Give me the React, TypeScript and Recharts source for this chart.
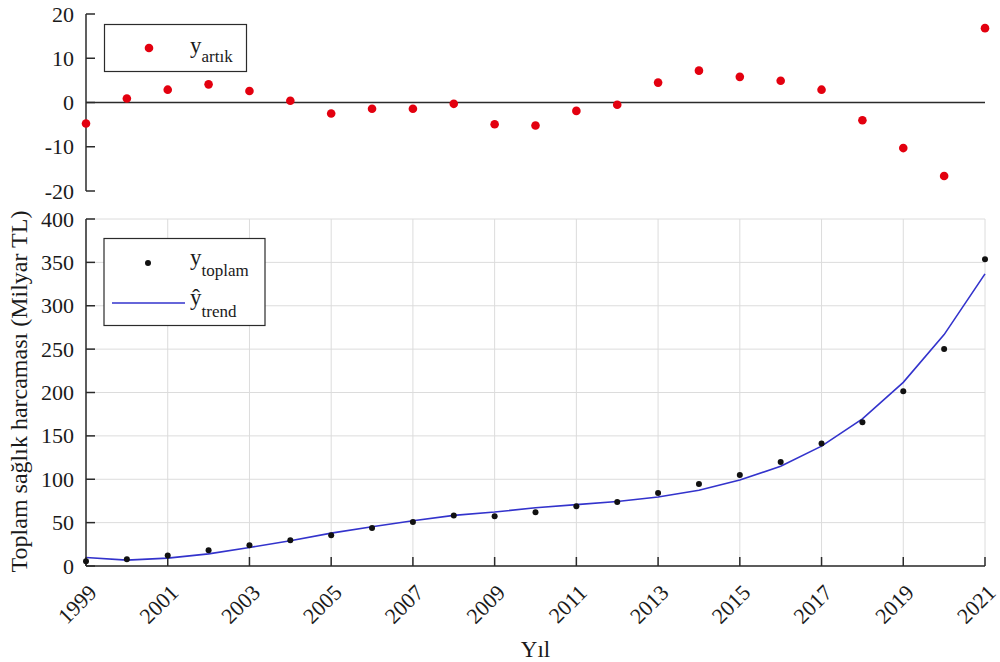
import React from 'react'
import { CartesianGrid, ComposedChart, Line, ReferenceLine, Scatter, XAxis, YAxis } from 'recharts'

// yearly values, 1999-2021
const years = [1999, 2000, 2001, 2002, 2003, 2004, 2005, 2006, 2007, 2008, 2009, 2010,
  2011, 2012, 2013, 2014, 2015, 2016, 2017, 2018, 2019, 2020, 2021]
const toplam = [5.4, 7.7, 12.0, 18.1, 23.9, 29.6, 35.4, 43.8, 50.7, 58.1, 57.3, 61.9,
  68.8, 73.8, 84.1, 94.5, 104.9, 119.9, 141.1, 165.6, 201.4, 250.1, 353.5]
const trend = [9.8, 6.8, 9.1, 14.0, 21.3, 29.2, 37.9, 45.2, 52.1, 58.4, 62.2, 67.1,
  70.7, 74.3, 79.6, 87.3, 99.1, 115.0, 138.2, 169.6, 211.7, 266.7, 336.7]
const artik = [-4.75, 0.9, 2.9, 4.1, 2.6, 0.4, -2.5, -1.4, -1.4, -0.3, -4.9, -5.2,
  -1.9, -0.5, 4.5, 7.2, 5.8, 4.9, 2.9, -4.0, -10.3, -16.6, 16.8]

const yearTicks = [1999, 2001, 2003, 2005, 2007, 2009, 2011, 2013, 2015, 2017, 2019, 2021]
const mainTicks = [0, 50, 100, 150, 200, 250, 300, 350, 400]
const residTicks = [-20, -10, 0, 10, 20]

const mainData = years.map((year, i) => ({ year, toplam: toplam[i], trend: trend[i] }))
const residData = years.map((year, i) => ({ year, artik: artik[i] }))

const FONT = '"Liberation Serif", "Times New Roman", serif'
const AXIS = '#2b2b2b'
const TEXT = '#1a1a1a'
const BLUE = '#3333cc'
const RED = '#e3000f'

const axisStroke = { stroke: AXIS, strokeWidth: 1.5 }

const redDot = (p: any) => <circle cx={p.cx} cy={p.cy} r={4.3} fill={RED} />
const blackDot = (p: any) => <circle cx={p.cx} cy={p.cy} r={3} fill="#111" />
const noTick = () => <g />

// left-axis numbers, right-aligned 12px before the axis line
const ValueTick = (p: any) => (
  <text x={74} y={p.y} dy={7.5} textAnchor="end" fill={TEXT} fontSize={22}
    style={{ fontFamily: FONT }}>
    {p.payload.value}
  </text>
)

const YearTick = (p: any) => {
  const x = p.x + 12
  return (
    <text x={x} y={p.y} transform={`rotate(-45 ${x} ${p.y})`} textAnchor="end"
      fill={TEXT} fontSize={22} style={{ fontFamily: FONT }}>
      {p.payload.value}
    </text>
  )
}

const xTitle = (p: any) => {
  const vb = p.viewBox
  return (
    <text x={vb.x + vb.width / 2} y={vb.y + vb.height - 5} textAnchor="middle"
      fill={TEXT} fontSize={23} style={{ fontFamily: FONT }}>Yıl</text>
  )
}

const yTitle = (p: any) => {
  const vb = p.viewBox
  const cy = vb.y + vb.height / 2 - 1
  return (
    <text x={27} y={cy} transform={`rotate(-90 27 ${cy})`} textAnchor="middle"
      fill={TEXT} fontSize={24} style={{ fontFamily: FONT }}>Toplam sağlık harcaması (Milyar TL)</text>
  )
}

function Legends() {
  return (
    <svg width={1000} height={662} style={{ position: 'absolute', left: 0, top: 0, pointerEvents: 'none' }}>
      <g style={{ fontFamily: FONT }} fill={TEXT}>
        <rect x={104.5} y={24.5} width={142} height={47} fill="#fff" stroke={AXIS} strokeWidth={1.2} />
        <circle cx={149} cy={48} r={4.3} fill={RED} />
        <text x={190} y={53} fontSize={23}>y<tspan dy={9} fontSize={17}>artık</tspan></text>

        <rect x={104} y={238.5} width={161} height={87} fill="#fff" stroke={AXIS} strokeWidth={1.2} />
        <circle cx={148} cy={263} r={3} fill="#111" />
        <text x={190} y={265} fontSize={23}>y<tspan dy={11} fontSize={17}>toplam</tspan></text>
        <line x1={112} x2={185} y1={303} y2={303} stroke={BLUE} strokeWidth={1.6} />
        <text x={190} y={305} fontSize={23}>ŷ<tspan dy={12} fontSize={17}>trend</tspan></text>
      </g>
    </svg>
  )
}

export default function App() {
  return (
    <div style={{ position: 'absolute', left: 0, top: 0, width: 1000, height: 662, background: '#fff' }}>
      {/* residuals */}
      <div style={{ position: 'absolute', left: 0, top: 0 }}>
        <ComposedChart width={1000} height={210} data={residData}
          margin={{ top: 14, right: 15, bottom: 19, left: 0 }}>
          <XAxis dataKey="year" type="number" domain={[1999, 2021]} hide />
          <YAxis type="number" domain={[-20, 20]} ticks={residTicks} interval={0} width={86}
            tickSize={-9} tickMargin={21} axisLine={axisStroke} tickLine={axisStroke} tick={<ValueTick />} />
          <ReferenceLine y={0} stroke={AXIS} strokeWidth={1.5} />
          <Scatter dataKey="artik" fill={RED} shape={redDot} isAnimationActive={false} />
        </ComposedChart>
      </div>

      {/* total spending with trend */}
      <div style={{ position: 'absolute', left: 0, top: 200 }}>
        <ComposedChart width={1000} height={462} data={mainData}
          margin={{ top: 19, right: 15, bottom: 0, left: 0 }}>
          <CartesianGrid stroke="#dcdcdc" strokeWidth={1} />
          <XAxis dataKey="year" type="number" domain={[1999, 2021]} ticks={yearTicks} interval={0}
            height={96} tickSize={-9} tickMargin={37} axisLine={axisStroke} tickLine={axisStroke}
            tick={<YearTick />} label={xTitle} />
          <XAxis xAxisId="top" orientation="top" dataKey="year" type="number" domain={[1999, 2021]}
            ticks={yearTicks} interval={0} height={0} tickSize={-9} axisLine={axisStroke}
            tickLine={axisStroke} tick={noTick} />
          <YAxis type="number" domain={[0, 400]} ticks={mainTicks} interval={0} width={86}
            tickSize={-9} tickMargin={21} axisLine={axisStroke} tickLine={axisStroke} tick={<ValueTick />}
            label={yTitle} />
          <YAxis yAxisId="right" orientation="right" type="number" domain={[0, 400]} ticks={mainTicks}
            interval={0} width={0} tickSize={-9} axisLine={axisStroke} tickLine={axisStroke} tick={noTick} />
          <Line dataKey="trend" type="linear" stroke={BLUE} strokeWidth={1.6} dot={false}
            isAnimationActive={false} />
          <Scatter dataKey="toplam" fill="#111" shape={blackDot} isAnimationActive={false} />
        </ComposedChart>
      </div>

      <Legends />
    </div>
  )
}
